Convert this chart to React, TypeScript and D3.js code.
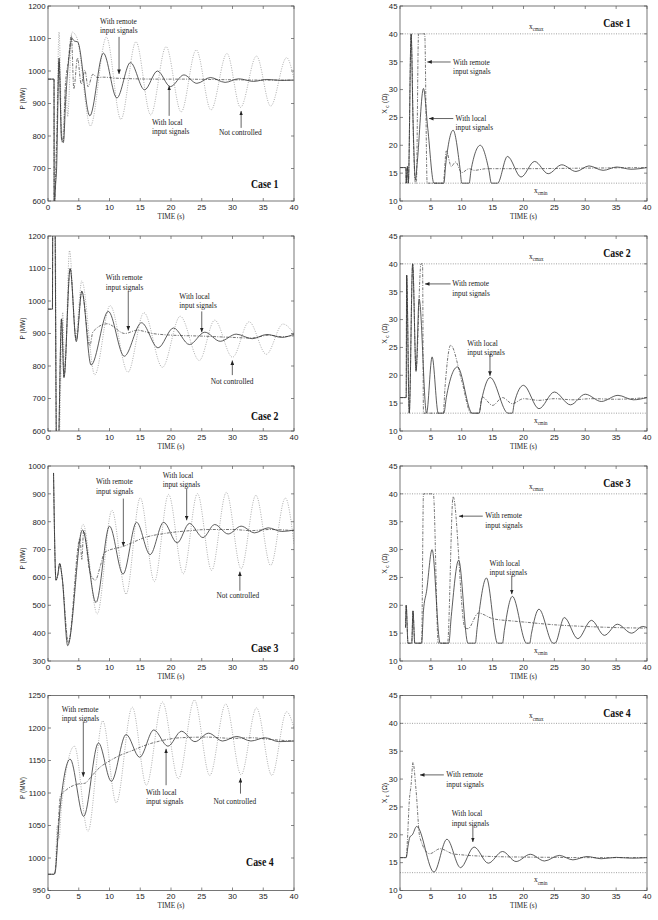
import React from 'react';
import * as d3 from 'd3';

type Pt = [number, number];
type Note = { text: string[]; at: Pt; from: Pt; to: Pt };

// ---------- axis ticks ----------
const timeTicks = [0, 5, 10, 15, 20, 25, 30, 35, 40];
const p1Ticks = [600, 700, 800, 900, 1000, 1100, 1200];
const p2Ticks = [600, 700, 800, 900, 1000, 1100, 1200];
const p3Ticks = [300, 400, 500, 600, 700, 800, 900, 1000];
const p4Ticks = [950, 1000, 1050, 1100, 1150, 1200, 1250];
const xcTicks = [10, 15, 20, 25, 30, 35, 40, 45];
const xcMax = 40;
const xcMin = 13.2;

// ---------- Case 1 : power ----------
const c1PowerLocal: Pt[] = [[0,975],[0.98,975],[1.0,560],[1.2,640],[1.4,700],[1.8,1040],[2.2,790],[2.5,780],[2.9,920],[3.4,1040],[3.9,1100],[4.3,1092],[4.8,1090],[6.8,862],[9.0,1055],[11.2,917],[13.4,1026],[15.7,942],[17.8,1000],[19.9,952],[22.1,988],[24.2,962],[26.4,980],[28.8,965],[31.0,976],[33.4,968],[35.6,974],[38,971],[40,972]];
const c1PowerRemote: Pt[] = [[0,975],[0.98,975],[1.0,580],[1.2,650],[1.5,850],[1.8,1030],[2.2,800],[2.5,785],[2.8,950],[3.3,1030],[3.8,1110],[4.2,945],[4.8,1040],[5.4,960],[6.0,1002],[6.5,952],[7.3,990],[8,980],[9,981],[11,978],[14,976],[18,975],[22,975],[26,974],[30,973],[35,972],[40,972]];
const c1PowerNone: Pt[] = [[0,975],[0.98,975],[1.0,590],[1.4,800],[1.8,1120],[2.3,780],[2.9,950],[3.2,860],[3.9,1120],[4.7,1102],[6.9,831],[9.5,1104],[11.85,851],[14.3,1090],[16.7,865],[19.2,1075],[21.65,874],[24.1,1065],[26.5,880],[29.1,1054],[31.3,888],[33.9,1046],[36.2,892],[38.8,1041],[40,975]];

// ---------- Case 1 : Xc ----------
const c1XcLocal: Pt[] = [[0,16],[0.95,16],[1.0,13.2],[1.2,16.2],[1.35,13.2],[1.8,40],[2.1,25],[2.5,13.8],[2.8,17],[3.8,30.2],[4.5,23],[5.5,13.2],[7.1,13.2],[7.4,16.5],[8.6,22.7],[9.7,16],[10.0,13.2],[11.2,13.2],[11.5,15.5],[13.0,20],[14.4,15.5],[14.8,13.2],[15.8,13.2],[17.4,18.0],[19.6,14.3],[21.8,17.1],[24.0,14.9],[26.2,16.5],[28.5,15.3],[30.6,16.3],[32.9,15.5],[35.1,16.1],[37.4,15.7],[40,16.0]];
const c1XcRemote: Pt[] = [[0,16],[0.95,16],[1.0,13.2],[1.2,16.2],[1.35,13.2],[1.8,40],[2.2,20],[2.5,13.2],[2.65,13.2],[3.0,40],[4.0,40],[4.4,13.2],[7.0,13.2],[7.5,19.0],[8.3,16.2],[9.0,17.0],[10.0,15.1],[11.2,15.8],[12,15.5],[14,15.8],[20,15.8],[30,15.9],[40,16.0]];

// ---------- Case 2 : power ----------
const c2PowerLocal: Pt[] = [[0,975],[0.72,975],[0.78,1300],[1.1,1300],[1.4,500],[1.6,500],[2.2,945],[2.6,765],[3.6,1100],[4.6,875],[5.5,1030],[7.0,803],[9.8,968],[12.4,830],[15.2,933],[17.9,856],[20.4,917],[23.0,866],[25.5,904],[28.0,876],[30.6,898],[33.2,884],[35.6,897],[38,888],[40,898]];
const c2PowerRemote: Pt[] = [[0,975],[0.72,975],[0.78,1300],[1.1,1300],[1.4,500],[1.6,500],[2.2,945],[2.6,765],[3.6,1100],[4.6,880],[5.5,1030],[6.8,862],[7.3,905],[9.6,930],[12.5,900],[14.5,910],[17,900],[20,895],[25,892],[30,888],[33,886],[36,895],[38,890],[40,893]];
const c2PowerNone: Pt[] = [[0,975],[0.72,975],[0.78,1300],[1.15,1300],[1.45,500],[1.7,500],[2.4,965],[2.7,780],[3.5,1155],[4.5,890],[5.5,1062],[7.6,773],[10.1,986],[13.0,781],[15.6,964],[18.6,796],[21.5,953],[24.6,817],[27.1,941],[30.0,827],[32.7,936],[35.5,836],[38.2,929],[40,900]];

// ---------- Case 2 : Xc ----------
const c2XcLocal: Pt[] = [[0,16],[1.0,16],[1.08,38],[1.5,13.2],[2.05,40],[2.6,20.7],[3.1,33.7],[4.3,13.2],[5.2,23.3],[6.2,13.2],[7.1,13.2],[7.5,16],[9.3,21.5],[11.7,13.2],[12.8,13.2],[13.2,15.5],[14.6,19.6],[17.5,13.2],[18.2,13.2],[18.5,15],[20.0,18.2],[22.5,14.0],[25.0,17.0],[27.6,14.7],[30.0,16.6],[32.6,15.3],[35.3,16.4],[37.8,15.6],[40,16.0]];
const c2XcRemote: Pt[] = [[0,16],[1.0,16],[1.08,38],[1.5,13.2],[2.05,40],[2.6,21],[3.4,40],[3.65,40],[3.8,13.2],[7.0,13.2],[7.3,18],[8.2,25.4],[10,19],[11.5,13.2],[12.8,13.2],[13.3,16.1],[15.0,14.6],[16.6,16.0],[18.2,14.9],[20,15.8],[22.5,15.5],[25,15.8],[28,15.6],[31,15.8],[35,15.7],[40,16.0]];

// ---------- Case 3 : power ----------
const c3PowerLocal: Pt[] = [[0.9,975],[1.3,590],[1.6,610],[1.9,650],[2.3,600],[3.2,355],[5.6,770],[7.8,510],[10.0,784],[12.2,612],[14.4,798],[16.6,682],[18.8,798],[21.0,724],[23.0,794],[25.2,743],[27.1,790],[29.3,756],[31.4,784],[33.6,760],[35.8,778],[38.0,765],[40,770]];
const c3PowerRemote: Pt[] = [[0.9,975],[1.3,590],[1.6,610],[1.9,650],[2.3,600],[3.3,365],[5.2,740],[5.5,665],[5.8,770],[6.8,620],[7.7,590],[8.5,640],[9.2,690],[12.3,712],[16,745],[19,758],[22.6,767],[26,772],[30,772],[33,768],[36,772],[40,768]];
const c3PowerNone: Pt[] = [[0.9,975],[1.3,590],[1.6,610],[1.9,650],[2.3,600],[3.3,370],[5.7,791],[8.0,469],[10.4,841],[12.7,540],[15.0,886],[17.3,585],[19.6,898],[22.0,613],[24.3,901],[26.6,625],[29.0,905],[31.4,631],[33.8,895],[36.2,643],[38.6,885],[40,720]];

// ---------- Case 3 : Xc ----------
const c3XcLocal: Pt[] = [[0.9,16],[1.0,20],[1.3,13.2],[1.9,13.2],[2.1,19],[2.4,13.2],[3.5,13.2],[3.8,19],[4.3,22.5],[5.2,30.0],[6.5,13.2],[7.9,13.2],[8.3,18],[9.5,28.1],[11.0,13.2],[12.2,13.2],[12.5,16],[14.0,24.9],[15.8,13.2],[16.6,13.2],[16.9,15.5],[18.2,21.6],[20.5,13.2],[21.0,13.2],[21.3,15],[22.5,19.3],[24.8,13.2],[25.1,13.2],[26.6,17.8],[28.8,14.0],[31.0,17.3],[33.1,14.6],[35.2,16.6],[37.5,15.0],[39.3,16.2],[40,16.0]];
const c3XcRemote: Pt[] = [[0.9,16],[1.0,20],[1.3,13.2],[1.9,13.2],[2.1,19],[2.4,13.2],[3.5,13.2],[3.8,40],[5.4,40],[6.2,13.2],[7.7,13.2],[8.6,39.5],[10.5,16.0],[11,15.8],[12.7,18.6],[15,17.6],[18,17.2],[20,17.0],[25,16.5],[30,16.2],[35,16.0],[40,15.9]];

// ---------- Case 4 : power ----------
const c4PowerLocal: Pt[] = [[0,975],[1.0,975],[1.2,980],[1.6,1030],[2.0,1080],[3.6,1152],[5.8,1064],[8.2,1177],[10.3,1118],[12.7,1190],[14.9,1155],[17.2,1197],[19.5,1172],[21.7,1195],[23.9,1179],[26.1,1192],[28.4,1180],[30.7,1187],[33.0,1180],[35.3,1185],[37.5,1179],[40,1180]];
const c4PowerRemote: Pt[] = [[0,975],[1.0,975],[1.2,982],[1.6,1040],[2.0,1095],[3.0,1105],[5.0,1114],[6.0,1115],[7.0,1125],[8.5,1140],[9.6,1147],[11.5,1157],[13.9,1166],[16,1174],[18.2,1180],[21.5,1185],[25.8,1186],[30.1,1184],[33,1185],[35.6,1183],[38,1181],[40,1180]];
const c4PowerNone: Pt[] = [[0,975],[1.0,975],[1.2,985],[1.5,1050],[1.8,1030],[2.2,1080],[4.3,1172],[6.5,1041],[8.9,1211],[11.1,1085],[13.7,1232],[16.0,1112],[18.6,1240],[21.2,1122],[23.8,1243],[26.3,1127],[28.9,1237],[31.4,1128],[33.9,1231],[36.4,1127],[38.8,1225],[40,1200]];

// ---------- Case 4 : Xc ----------
const c4XcLocal: Pt[] = [[0,15.9],[1.0,15.9],[1.3,18],[1.6,19.6],[2.0,20.0],[2.7,21.5],[5.5,13.3],[7.6,19.2],[9.8,14.1],[12.0,17.8],[14.3,14.9],[16.6,17.0],[18.8,15.2],[21.1,16.5],[23.4,15.3],[25.8,16.3],[28.0,15.5],[30.3,16.1],[32.6,15.7],[35,15.95],[37.5,15.8],[40,15.9]];
const c4XcRemote: Pt[] = [[0,15.9],[1.0,15.9],[1.2,19],[1.5,26],[1.8,29],[2.1,33],[2.6,28],[3.2,19.6],[4.8,16.6],[6.5,17.5],[8.5,16.6],[10,16.4],[15,16.1],[20,16.0],[25,15.95],[30,15.9],[35,15.9],[40,15.9]];

// ---------- annotations (data coordinates) ----------
const remoteText = ['With remote', 'input signals'];
const localText = ['With local', 'input signals'];
const noneText = ['Not controlled'];

const p1Notes: Note[] = [
  { text: remoteText, at: [8.46, 1145], from: [11.55, 1105], to: [11.55, 991] },
  { text: localText, at: [16.9, 835], from: [19.7, 862], to: [19.7, 954] },
  { text: noneText, at: [27.8, 803], from: [31.4, 825], to: [31.4, 877] },
];
const p2Notes: Note[] = [
  { text: remoteText, at: [9.4, 1064], from: [13.05, 1030], to: [13.05, 909] },
  { text: localText, at: [21.35, 1007], from: [25, 968], to: [25, 904] },
  { text: noneText, at: [26.45, 744], from: [29.97, 772], to: [29.97, 817] },
];
const p3Notes: Note[] = [
  { text: remoteText, at: [7.8, 935], from: [12.25, 883], to: [12.25, 712] },
  { text: localText, at: [18.65, 957], from: [22.55, 919], to: [22.55, 805] },
  { text: noneText, at: [27.4, 527], from: [31.2, 552], to: [31.2, 621] },
];
const p4Notes: Note[] = [
  { text: remoteText, at: [2.23, 1225], from: [5.74, 1210], to: [5.74, 1125] },
  { text: localText, at: [15.93, 1097], from: [19.2, 1112], to: [19.2, 1168] },
  { text: noneText, at: [26.9, 1083], from: [31.3, 1099], to: [31.3, 1123] },
];
const x1Notes: Note[] = [
  { text: remoteText, at: [8.6, 34.5], from: [8.2, 34.95], to: [4.42, 34.95] },
  { text: localText, at: [9.0, 24.4], from: [8.63, 24.8], to: [4.7, 24.8] },
];
const x2Notes: Note[] = [
  { text: remoteText, at: [8.47, 36.0], from: [8.2, 36.4], to: [4.05, 36.4] },
  { text: localText, at: [10.9, 25.3], from: [14.57, 23.8], to: [14.57, 19.9] },
];
const x3Notes: Note[] = [
  { text: remoteText, at: [13.8, 35.6], from: [13.4, 36.0], to: [9.55, 36.0] },
  { text: localText, at: [14.5, 27.1], from: [18.1, 25.3], to: [18.1, 22.0] },
];
const x4Notes: Note[] = [
  { text: remoteText, at: [7.5, 30.3], from: [7.1, 30.75], to: [3.24, 30.75] },
  { text: localText, at: [8.37, 23.3], from: [11.8, 21.7], to: [11.8, 18.7] },
];

const caseNames = ['Case 1', 'Case 2', 'Case 3', 'Case 4'];
const powerCasePos: Pt[] = [[33, 640], [33, 634], [33, 332], [32.2, 987]];
const xcCasePos: Pt = [32.9, 41.2];
const xcMaxLabelPos: Pt = [20.9, 40.9];
const xcMinLabelPos: Pt = [21.7, 11.5];

// ---------- layout ----------
const rowTops = [6, 236, 466, 695.5];
const plotH = 195;
const leftX = 48, leftW = 246;
const rightX = 400, rightW = 247;

const SANS = '"Liberation Sans", Arial, sans-serif';
const SERIF = '"Liberation Serif", "Times New Roman", serif';
const SQ = 0.82;

const styles = {
  local: { stroke: '#333', width: 0.8, dash: undefined as string | undefined },
  remote: { stroke: '#3a3a3a', width: 0.7, dash: '3,1.3,1,1.3' },
  none: { stroke: '#999', width: 0.8, dash: '1,1.4' },
};

interface PanelProps {
  id: string;
  x0: number; y0: number; w: number; h: number;
  yDomain: [number, number];
  yTicks: number[];
  kind: 'power' | 'xc';
  local: Pt[]; remote: Pt[]; none?: Pt[];
  notes: Note[];
  caseName: string; casePos: Pt;
}

function Panel(p: PanelProps) {
  const xs = d3.scaleLinear().domain([0, 40]).range([p.x0, p.x0 + p.w]);
  const ys = d3.scaleLinear().domain(p.yDomain).range([p.y0 + p.h, p.y0]);
  const line = d3.line<Pt>().x(d => xs(d[0])).y(d => ys(d[1])).curve(d3.curveMonotoneX);
  const bottom = p.y0 + p.h, right = p.x0 + p.w;
  const tl = 3;
  const series: { data: Pt[]; s: typeof styles.local }[] = [];
  if (p.none) series.push({ data: p.none, s: styles.none });
  series.push({ data: p.remote, s: styles.remote });
  series.push({ data: p.local, s: styles.local });
  const midY = p.y0 + p.h / 2;
  return (
    <g>
      <defs>
        <clipPath id={`clip-${p.id}`}>
          <rect x={p.x0} y={p.y0} width={p.w} height={p.h} />
        </clipPath>
      </defs>
      <rect x={p.x0} y={p.y0} width={p.w} height={p.h} fill="#fff" stroke="none" />
      {p.kind === 'xc' && [xcMax, xcMin].map(v => (
        <line key={v} x1={p.x0} x2={right} y1={ys(v)} y2={ys(v)} stroke="#888" strokeWidth={0.8} strokeDasharray="1,1.4" />
      ))}
      <g clipPath={`url(#clip-${p.id})`}>
        {series.map((sr, i) => (
          <path key={i} d={line(sr.data) || ''} fill="none" stroke={sr.s.stroke} strokeWidth={sr.s.width}
            strokeDasharray={sr.s.dash} strokeLinejoin="round" />
        ))}
      </g>
      <rect x={p.x0} y={p.y0} width={p.w} height={p.h} fill="none" stroke="#555" strokeWidth={0.8} />
      {timeTicks.map(t => (
        <g key={`xt${t}`}>
          <line x1={xs(t)} x2={xs(t)} y1={bottom} y2={bottom - tl} stroke="#555" strokeWidth={0.7} />
          <line x1={xs(t)} x2={xs(t)} y1={p.y0} y2={p.y0 + tl} stroke="#555" strokeWidth={0.7} />
          <text x={xs(t)} y={bottom + 8.5} fontSize={8} fontFamily={SANS} textAnchor="middle" fill="#222">{t}</text>
        </g>
      ))}
      {p.yTicks.map(v => (
        <g key={`yt${v}`}>
          <line x1={p.x0} x2={p.x0 + tl} y1={ys(v)} y2={ys(v)} stroke="#555" strokeWidth={0.7} />
          <line x1={right} x2={right - tl} y1={ys(v)} y2={ys(v)} stroke="#555" strokeWidth={0.7} />
          <text x={p.x0 - 2.5} y={ys(v) + 2.8} fontSize={7.8} fontFamily={SANS} textAnchor="end" fill="#222">{v}</text>
        </g>
      ))}
      <text transform={`translate(${(p.x0 + right) / 2},${bottom + 17.5}) scale(0.9,1)`} fontSize={8} fontFamily={SERIF} textAnchor="middle" fill="#222">TIME (s)</text>
      {p.kind === 'power' ? (
        <text transform={`translate(${p.x0 - 23},${midY - 5}) rotate(-90)`} fontSize={6.5} fontFamily={SANS} textAnchor="middle" fill="#222">P (MW)</text>
      ) : (
        <text transform={`translate(${p.x0 - 13},${midY}) rotate(-90)`} fontSize={7} fontFamily={SANS} textAnchor="middle" fill="#222">
          X<tspan fontSize={5} dy={1.8}> c</tspan><tspan dy={-1.8}> (Ω)</tspan>
        </text>
      )}
      {p.kind === 'xc' && (
        <g fontFamily={SERIF} fill="#222">
          <text transform={`translate(${xs(xcMaxLabelPos[0])},${ys(xcMaxLabelPos[1])}) scale(${SQ},1)`} fontSize={9}>
            x<tspan fontSize={6} dy={2.5}>cmax</tspan>
          </text>
          <text transform={`translate(${xs(xcMinLabelPos[0])},${ys(xcMinLabelPos[1])}) scale(${SQ},1)`} fontSize={9}>
            x<tspan fontSize={6} dy={2.5}>cmin</tspan>
          </text>
        </g>
      )}
      {p.notes.map((n, i) => (
        <g key={`n${i}`}>
          <text transform={`translate(${xs(n.at[0])},${ys(n.at[1])}) scale(${SQ},1)`} fontSize={9} fontFamily={SERIF} fill="#222">
            {n.text.map((s, j) => (
              <tspan key={j} x={0} y={j * 9.5}>{s}</tspan>
            ))}
          </text>
          <line x1={xs(n.from[0])} y1={ys(n.from[1])} x2={xs(n.to[0])} y2={ys(n.to[1])} stroke="#222" strokeWidth={0.7} markerEnd="url(#arrowHead)" />
        </g>
      ))}
      <text transform={`translate(${xs(p.casePos[0])},${ys(p.casePos[1])}) scale(${SQ},1)`} fontSize={12} fontWeight="bold" fontFamily={SERIF} fill="#111">{p.caseName}</text>
    </g>
  );
}

const powerSets = [
  { local: c1PowerLocal, remote: c1PowerRemote, none: c1PowerNone, ticks: p1Ticks, notes: p1Notes },
  { local: c2PowerLocal, remote: c2PowerRemote, none: c2PowerNone, ticks: p2Ticks, notes: p2Notes },
  { local: c3PowerLocal, remote: c3PowerRemote, none: c3PowerNone, ticks: p3Ticks, notes: p3Notes },
  { local: c4PowerLocal, remote: c4PowerRemote, none: c4PowerNone, ticks: p4Ticks, notes: p4Notes },
];
const xcSets = [
  { local: c1XcLocal, remote: c1XcRemote, notes: x1Notes },
  { local: c2XcLocal, remote: c2XcRemote, notes: x2Notes },
  { local: c3XcLocal, remote: c3XcRemote, notes: x3Notes },
  { local: c4XcLocal, remote: c4XcRemote, notes: x4Notes },
];

export default function App() {
  return (
    <svg width={658} height={920} viewBox="0 0 658 920"
      style={{ position: 'absolute', left: 0, top: 0, background: '#fff' }}>
      <defs>
        <marker id="arrowHead" viewBox="0 0 6 5" refX={6} refY={2.5} markerWidth={4.5} markerHeight={4}
          markerUnits="userSpaceOnUse" orient="auto">
          <path d="M0,0 L6,2.5 L0,5 z" fill="#222" />
        </marker>
      </defs>
      <rect x={0} y={0} width={658} height={920} fill="#fff" />
      {powerSets.map((s, i) => (
        <Panel key={`p${i}`} id={`p${i}`} x0={leftX} y0={rowTops[i]} w={leftW} h={plotH}
          yDomain={[s.ticks[0], s.ticks[s.ticks.length - 1]]} yTicks={s.ticks} kind="power"
          local={s.local} remote={s.remote} none={s.none} notes={s.notes}
          caseName={caseNames[i]} casePos={powerCasePos[i]} />
      ))}
      {xcSets.map((s, i) => (
        <Panel key={`x${i}`} id={`x${i}`} x0={rightX} y0={rowTops[i]} w={rightW} h={plotH}
          yDomain={[10, 45]} yTicks={xcTicks} kind="xc"
          local={s.local} remote={s.remote} notes={s.notes}
          caseName={caseNames[i]} casePos={xcCasePos} />
      ))}
    </svg>
  );
}
